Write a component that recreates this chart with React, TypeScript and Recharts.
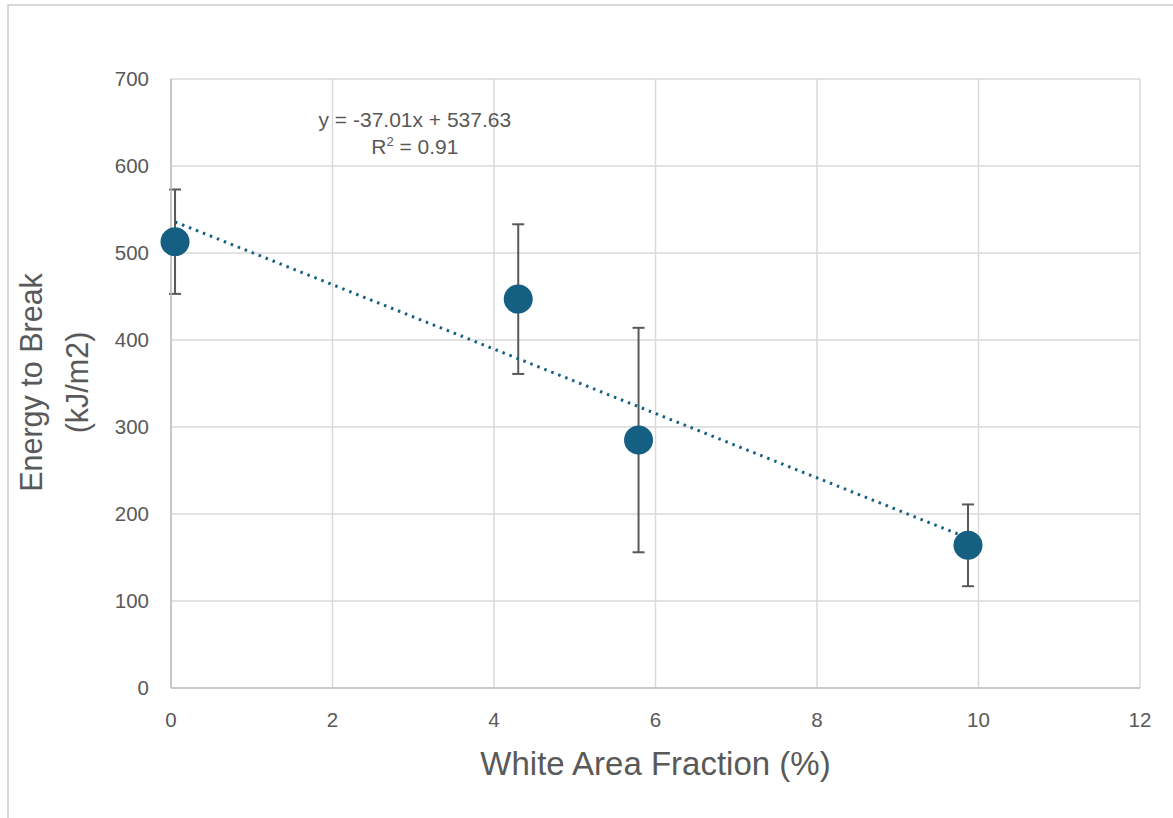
import React from 'react';
import { ScatterChart, Scatter, XAxis, YAxis, CartesianGrid, ErrorBar, ReferenceDot } from 'recharts';

const whiteAreaFraction = [0.05, 4.3, 5.79, 9.87];
const energyToBreak = [513, 447, 285, 164];
const errorValues = [60, 86, 129, 47];
const xTicks = [0, 2, 4, 6, 8, 10, 12];
const yTicks = [0, 100, 200, 300, 400, 500, 600, 700];
const trendSlope = -37.01;
const trendIntercept = 537.63;
const equationText = 'y = -37.01x + 537.63';
const r2Value = '0.91';
const equationAnchor = { x: 3.02, y: 645 };

const xTitle = 'White Area Fraction (%)';
const yTitleLines = ['Energy to Break', '(kJ/m2)'];

const data = whiteAreaFraction.map((x, i) => ({ x, y: energyToBreak[i], err: errorValues[i] }));
const xMin = Math.min(...whiteAreaFraction);
const xMax = Math.max(...whiteAreaFraction);
const trendData = [
  { x: xMin, y: trendSlope * xMin + trendIntercept },
  { x: xMax, y: trendSlope * xMax + trendIntercept },
];

const BLUE = '#156082';
const TEXT = '#595959';
const GRID = '#d9d9d9';
const FONT = '"Liberation Sans", Arial, sans-serif';

const YTitle = (props: any) => {
  const vb = props.viewBox || { x: 0, y: 79, width: 171, height: 609 };
  const cy = vb.y + vb.height / 2 - 1;
  const x1 = 42;
  const x2 = 88;
  return (
    <g>
      <text x={x1} y={cy} transform={`rotate(-90 ${x1} ${cy})`} textAnchor="middle" fill={TEXT} fontSize={30.5} fontFamily={FONT}>
        {yTitleLines[0]}
      </text>
      <text x={x2} y={cy} transform={`rotate(-90 ${x2} ${cy})`} textAnchor="middle" fill={TEXT} fontSize={30.5} fontFamily={FONT}>
        {yTitleLines[1]}
      </text>
    </g>
  );
};

const XTitle = (props: any) => {
  const vb = props.viewBox || { x: 171, y: 688, width: 969, height: 130 };
  return (
    <text x={vb.x + vb.width / 2} y={vb.y + 87} textAnchor="middle" fill={TEXT} fontSize={33} fontFamily={FONT}>
      {xTitle}
    </text>
  );
};

const EquationLabel = (props: any) => {
  const vb = props.viewBox || { x: 0, y: 0, width: 0, height: 0 };
  const cx = vb.x + vb.width / 2;
  const cy = vb.y + vb.height / 2;
  return (
    <g>
      <text x={cx} y={cy} textAnchor="middle" fill={TEXT} fontSize={21} fontFamily={FONT}>
        {equationText}
      </text>
      <text x={cx} y={cy + 27} textAnchor="middle" fill={TEXT} fontSize={21} fontFamily={FONT}>
        R<tspan dy={-8} fontSize={13}>2</tspan>
        <tspan dy={8}> = {r2Value}</tspan>
      </text>
    </g>
  );
};

const Dot = (p: any) => <circle cx={p.cx} cy={p.cy} r={14.5} fill={BLUE} />;

export default function App() {
  return (
    <div style={{ position: 'fixed', left: 0, top: 0, width: 1173, height: 818, overflow: 'hidden', background: '#fff' }}>
      <div style={{ position: 'absolute', left: 7, top: 4, width: 1200, height: 900, border: `2px solid ${GRID}` }} />
      <div style={{ position: 'absolute', left: 0, top: 0 }}>
        <ScatterChart width={1173} height={818} margin={{ top: 79, right: 33, bottom: 0, left: 0 }} style={{ fontFamily: FONT }}>
          <CartesianGrid stroke={GRID} strokeWidth={1.5} />
          <XAxis
            type="number"
            dataKey="x"
            domain={[0, 12]}
            ticks={xTicks}
            height={130}
            tickLine={false}
            tickSize={0}
            tickMargin={24}
            axisLine={{ stroke: '#bfbfbf', strokeWidth: 1.5 }}
            tick={{ fill: TEXT, fontSize: 20.5 }}
            label={<XTitle />}
          />
          <YAxis
            type="number"
            dataKey="y"
            domain={[0, 700]}
            ticks={yTicks}
            width={171}
            tickLine={false}
            tickSize={0}
            tickMargin={22}
            axisLine={{ stroke: '#bfbfbf', strokeWidth: 1.5 }}
            tick={{ fill: TEXT, fontSize: 20.5 }}
            label={<YTitle />}
          />
          <Scatter
            data={trendData}
            line={{ stroke: BLUE, strokeWidth: 3, strokeDasharray: '2.5 5' }}
            shape={() => <g />}
            isAnimationActive={false}
          />
          <Scatter data={data} shape={Dot} isAnimationActive={false}>
            <ErrorBar dataKey="err" direction="y" width={6} stroke={TEXT} strokeWidth={2} />
          </Scatter>
          <ReferenceDot
            x={equationAnchor.x}
            y={equationAnchor.y}
            r={0}
            fill="none"
            stroke="none"
            label={<EquationLabel />}
          />
        </ScatterChart>
      </div>
    </div>
  );
}
